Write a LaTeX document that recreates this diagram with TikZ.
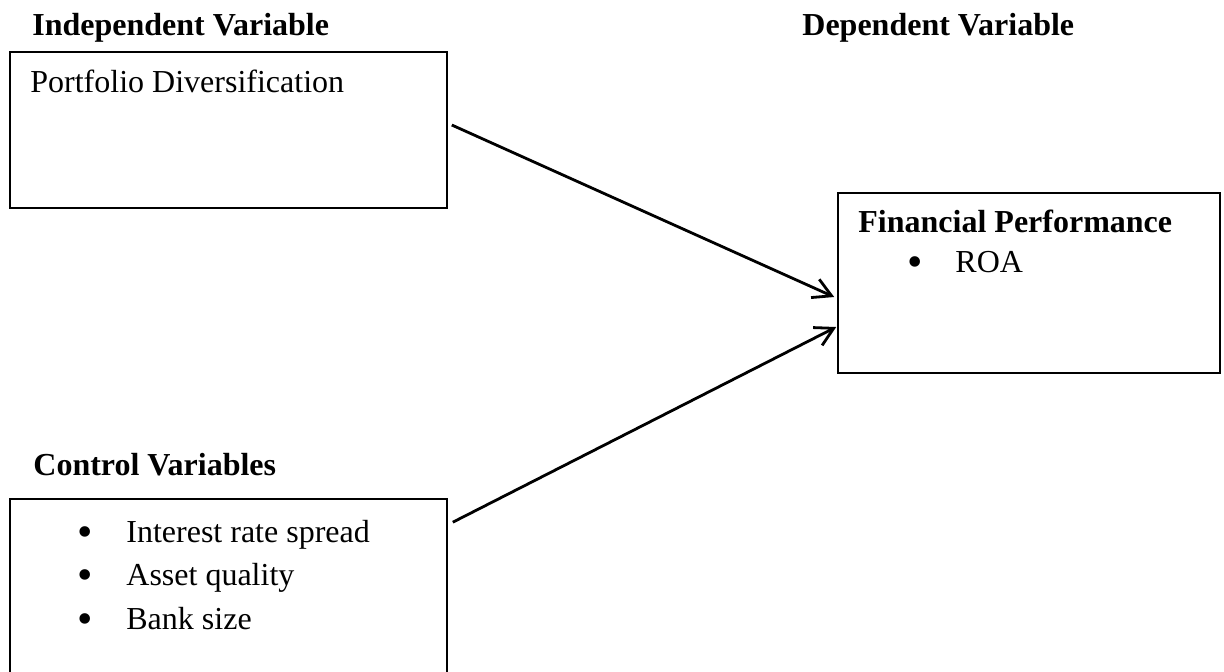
\documentclass[tikz,border=0pt]{standalone}
\usepackage{fontspec}
\setmainfont{Liberation Serif}
\usetikzlibrary{arrows.meta,fit}

\begin{document}
\begin{tikzpicture}[x=0.5pt,y=-0.5pt,
    txt/.style={inner sep=0pt,anchor=base west,font=\fontsize{16}{19}\selectfont},
    head/.style={txt,font=\fontsize{16}{19}\selectfont\bfseries},
    bul/.style={inner sep=0pt,anchor=base,font=\fontsize{22}{22}\selectfont},
    box/.style={draw,line width=0.8pt,inner sep=0pt},
    link/.style={line width=1.4pt,-{Straight Barb[length=9pt,width=10pt,line width=1.4pt]}}]
            \clip (0,0) rectangle (1224,671);
            % headings
            \node[head] (indep) at (32,35) {Independent Variable};
            \node[head] (dep) at (802,35) {Dependent Variable};
            \node[head] (ctrl) at (33,475) {Control Variables};
            % boxes
            \node[box,fit={(10,52) (447,208)}] (pdbox) {};
            \node[box,fit={(838,193) (1220,373)}] (fpbox) {};
            \node[box,fit={(10,499) (447,700)}] (cvbox) {};
            % box texts
            \node[txt] (pd) at (30,92) {Portfolio Diversification};
            \node[head] (fp) at (858,232) {Financial Performance};
            \node[bul] (fpdot) at (915,276) {•};
            \node[txt] (roa) at (955,272) {ROA};
            \foreach \y/\ytext/\yname in {542/Interest rate spread/irs, 585/Asset quality/aq, 629/Bank size/bs}
            {
            \node[bul] (\yname dot) at (85,\y+4) {•};
            \node[txt] (\yname) at (126,\y) {\ytext};
            }
            % connectors
            \coordinate (pdout) at ([shift={(4,-5)}]pdbox.east);
            \coordinate (cvout) at ([shift={(5,24)}]cvbox.north east);
            \coordinate (fpinA) at ([shift={(-3,14)}]fpbox.west);
            \coordinate (fpinB) at ([shift={(-1,44)}]fpbox.west);
            \draw[link] (pdout) -- (fpinA);
            \draw[link] (cvout) -- (fpinB);
        \end{tikzpicture}
\end{document}
